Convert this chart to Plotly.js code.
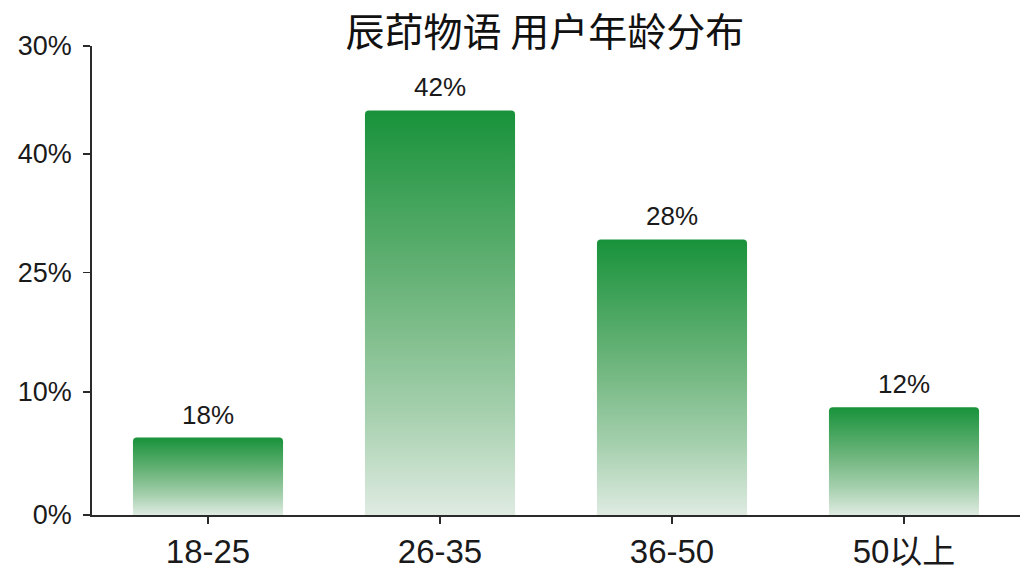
<!DOCTYPE html>
<html>
<head>
<meta charset="utf-8">
<script src="https://cdn.plot.ly/plotly-3.0.1.min.js"></script>
<style>
  html, body { margin: 0; padding: 0; background: #fff; }
  #chart { width: 1024px; height: 576px; }
</style>
</head>
<body>
<div id="chart"></div>
<script>
// categories and values
const ageGroups = ["18-25", "26-35", "36-50", "50以上"];
// bar heights in axis units (the axis ticks below are labelled as in the source)
const barHeights = [6.6, 34.5, 23.5, 9.2];
const barLabels = ["18%", "42%", "28%", "12%"];
const yTickVals = [0, 10.5, 20.7, 30.8, 40];
const yTickText = ["0%", "10%", "25%", "40%", "30%"];

const data = [{
  type: "bar",
  x: ageGroups,
  y: barHeights,
  marker: { color: "#4ea862", cornerradius: 4, line: { width: 0 } },
  hoverinfo: "none"
}];

const annotations = ageGroups.map((g, i) => ({
  x: g, y: barHeights[i],
  xref: "x", yref: "y",
  text: barLabels[i],
  showarrow: false,
  yanchor: "bottom",
  yshift: 6,
  font: { family: "Liberation Sans, Arial, sans-serif", size: 26, color: "#1a1a1a" }
}));

const layout = {
  width: 1024,
  height: 576,
  paper_bgcolor: "#ffffff",
  plot_bgcolor: "#ffffff",
  margin: { l: 92, r: 4, t: 46, b: 61 },
  bargap: 0.353,
  showlegend: false,
  title: {
    text: "辰茚物语 用户年龄分布",
    font: { family: "Noto Sans CJK SC, sans-serif", size: 39, color: "#111111" },
    x: 0.532, xanchor: "center",
    y: 0.943, yanchor: "middle", yref: "container"
  },
  xaxis: {
    showline: true, linecolor: "#2a2a2a", linewidth: 1.8,
    ticks: "outside", ticklen: 7, tickcolor: "#2a2a2a", tickwidth: 1.5,
    tickfont: { family: "Liberation Sans, Noto Sans CJK SC, sans-serif", size: 33, color: "#1a1a1a" },
    showgrid: false, zeroline: false, fixedrange: true
  },
  yaxis: {
    range: [0, 40],
    tickvals: yTickVals,
    ticktext: yTickText,
    showline: true, linecolor: "#2a2a2a", linewidth: 1.8,
    ticks: "outside", ticklen: 7, tickcolor: "#2a2a2a", tickwidth: 1.5,
    ticklabelstandoff: 6,
    tickfont: { family: "Liberation Sans, Arial, sans-serif", size: 27, color: "#1a1a1a" },
    showgrid: false, zeroline: false, fixedrange: true
  },
  annotations
};

Plotly.newPlot("chart", data, layout, { displayModeBar: false, staticPlot: true }).then(gd => {
  // vertical green fade on each bar
  const svg = gd.querySelector(".main-svg");
  const ns = "http://www.w3.org/2000/svg";
  let defs = svg.querySelector("defs");
  if (!defs) { defs = document.createElementNS(ns, "defs"); svg.insertBefore(defs, svg.firstChild); }
  const grad = document.createElementNS(ns, "linearGradient");
  grad.setAttribute("id", "barGrad");
  grad.setAttribute("x1", "0"); grad.setAttribute("y1", "0");
  grad.setAttribute("x2", "0"); grad.setAttribute("y2", "1");
  [[0, "#18923a"], [0.45, "#6db57c"], [0.75, "#a6d0ae"], [1, "#dfebe2"]].forEach(([o, c]) => {
    const s = document.createElementNS(ns, "stop");
    s.setAttribute("offset", o);
    s.setAttribute("stop-color", c);
    grad.appendChild(s);
  });
  defs.appendChild(grad);
  gd.querySelectorAll(".bars .point path").forEach(p => {
    p.style.fill = "url(#barGrad)";
    p.style.fillOpacity = 1;
  });
});
</script>
</body>
</html>
